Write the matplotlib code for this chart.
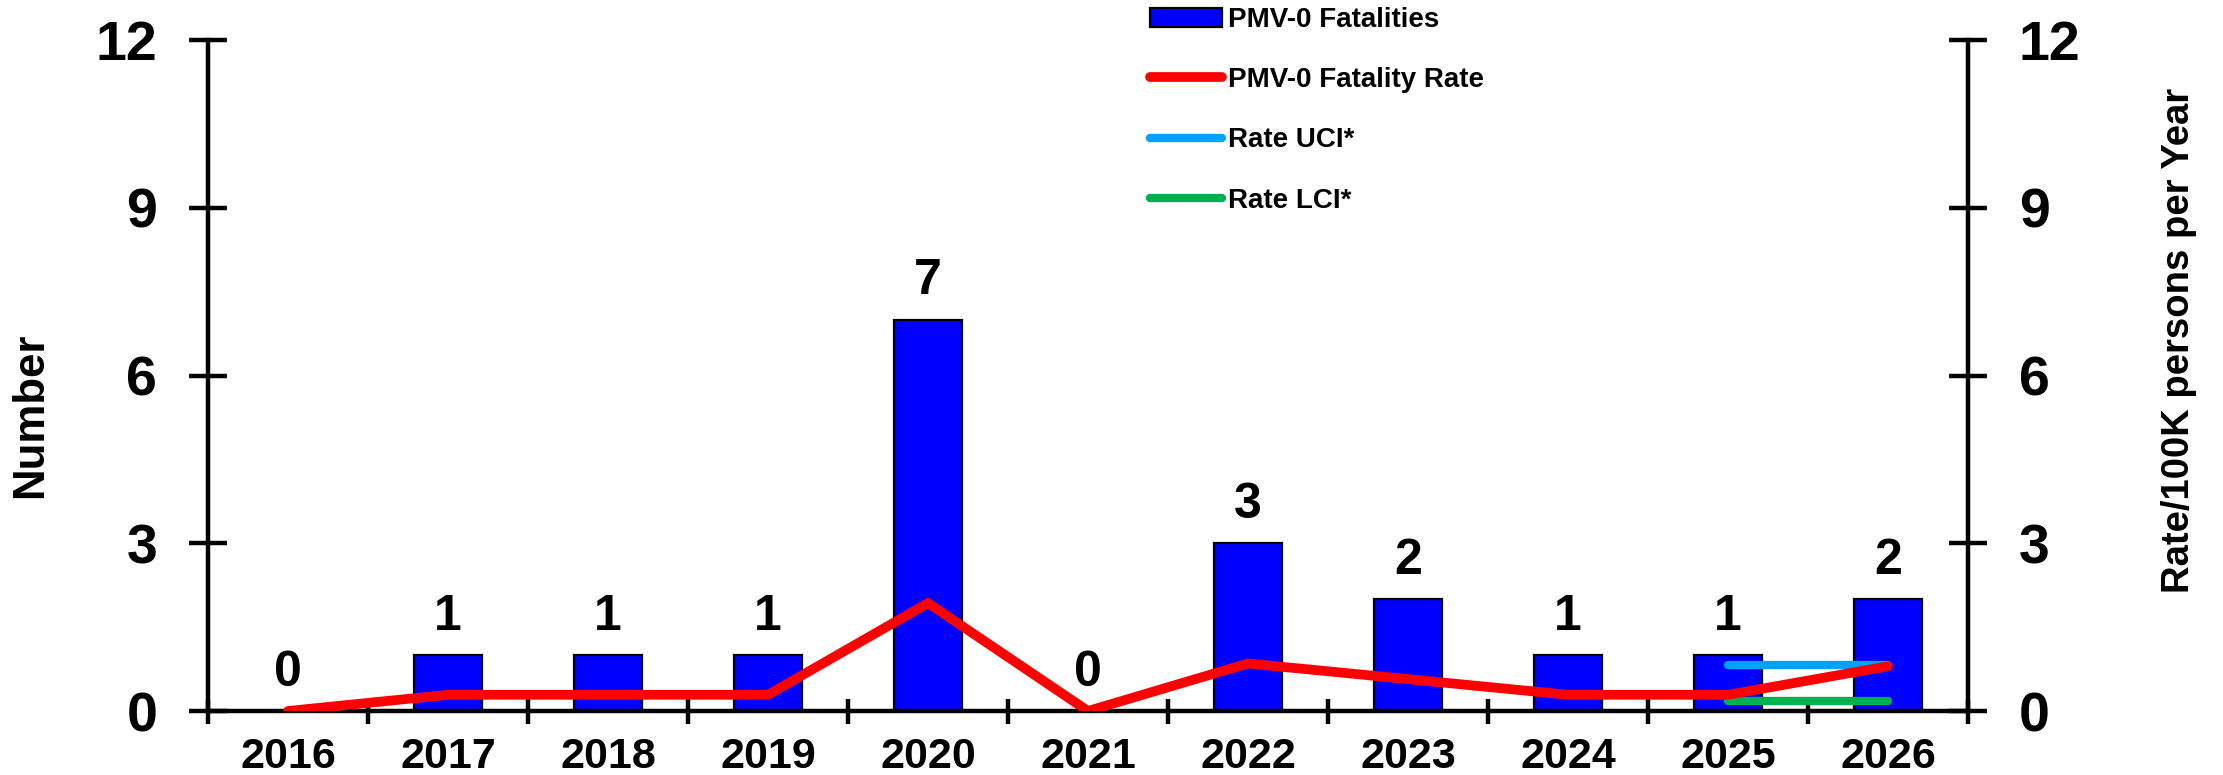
import matplotlib
matplotlib.use("Agg")
import matplotlib.pyplot as plt
import numpy as np
from matplotlib import font_manager

years = ["2016", "2017", "2018", "2019", "2020", "2021", "2022", "2023", "2024", "2025", "2026"]
fatalities = [0, 1, 1, 1, 7, 0, 3, 2, 1, 1, 2]
fatality_rate = [0.0, 0.29, 0.29, 0.29, 1.93, 0.0, 0.85, 0.57, 0.29, 0.29, 0.80]
rate_uci = [np.nan] * 9 + [0.82, 0.82]
rate_lci = [np.nan] * 9 + [0.18, 0.18]
y_ticks = [0, 3, 6, 9, 12]

names = {f.name for f in font_manager.fontManager.ttflist}
main_font = "Liberation Sans" if "Liberation Sans" in names else "DejaVu Sans"
narrow = "Liberation Sans Narrow" in names
narrow_font = "Liberation Sans Narrow" if narrow else main_font
plt.rcParams["font.family"] = [main_font, "DejaVu Sans"]

W, H = 2223, 775
fig = plt.figure(figsize=(W / 100, H / 100), dpi=100)
ax = fig.add_axes([208 / W, 1 - 711 / H, (1968 - 208) / W, (711 - 40) / H])
ax2 = ax.twinx()

x = np.arange(len(years))
bars = ax.bar(x, fatalities, width=0.42, color="#0000FF", edgecolor="black",
              linewidth=1.6, label="PMV-0 Fatalities", zorder=2)
for xi, v in zip(x, fatalities):
    ax.annotate(str(v), (xi, v), xytext=(0, 11), textcoords="offset points",
                ha="center", va="bottom", fontsize=36, fontweight="bold")

l_uci, = ax2.plot(x, rate_uci, color="#00A2FF", lw=6, solid_capstyle="round", label="Rate UCI*")
l_lci, = ax2.plot(x, rate_lci, color="#00B050", lw=6, solid_capstyle="round", label="Rate LCI*")
l_rate, = ax2.plot(x, fatality_rate, color="#FF0000", lw=7, solid_capstyle="round",
                   solid_joinstyle="miter", label="PMV-0 Fatality Rate")

for a in (ax, ax2):
    a.set_ylim(0, 12)
    a.set_xlim(-0.5, len(years) - 0.5)
    a.set_yticks(y_ticks)
    a.spines["top"].set_visible(False)
    for s in ("left", "right", "bottom"):
        a.spines[s].set_linewidth(3.2)
    a.tick_params(axis="y", direction="inout", length=27, width=3.2, pad=23,
                  labelsize=40)
    for lab in a.get_yticklabels():
        lab.set_fontweight("bold")

ax.spines["right"].set_visible(False)
ax2.spines["left"].set_visible(False)
ax2.spines["bottom"].set_visible(False)

ax.set_xticks(x)
ax.set_xticklabels(years, fontsize=31, fontweight="bold")
ax.tick_params(axis="x", which="major", length=0, pad=19)
ax.set_xticks(np.arange(-0.5, len(years), 1.0), minor=True)
ax.tick_params(axis="x", which="minor", direction="inout", length=18, width=3.2)

lab_sizes = (36, 36) if narrow else (31.5, 27.5)
fig.text(31 / W, 1 - 415 / H, "Number", rotation=90, ha="center", va="center",
         fontsize=lab_sizes[0], fontweight="bold", family=[narrow_font, "DejaVu Sans"])
fig.text(2179 / W, 1 - 340 / H, "Rate/100K persons per Year", rotation=90,
         ha="center", va="center", fontsize=lab_sizes[1], fontweight="bold",
         family=[narrow_font, "DejaVu Sans"])

fig.legend([bars, l_rate, l_uci, l_lci],
           ["PMV-0 Fatalities", "PMV-0 Fatality Rate", "Rate UCI*", "Rate LCI*"],
           loc="upper left", bbox_to_anchor=(1150 / W, 1 - 7 / H), frameon=False,
           prop={"size": 20, "weight": "bold"}, handlelength=2.6, handletextpad=0.22,
           labelspacing=1.23, borderpad=0, borderaxespad=0)

fig.savefig("out.png", dpi=100)
